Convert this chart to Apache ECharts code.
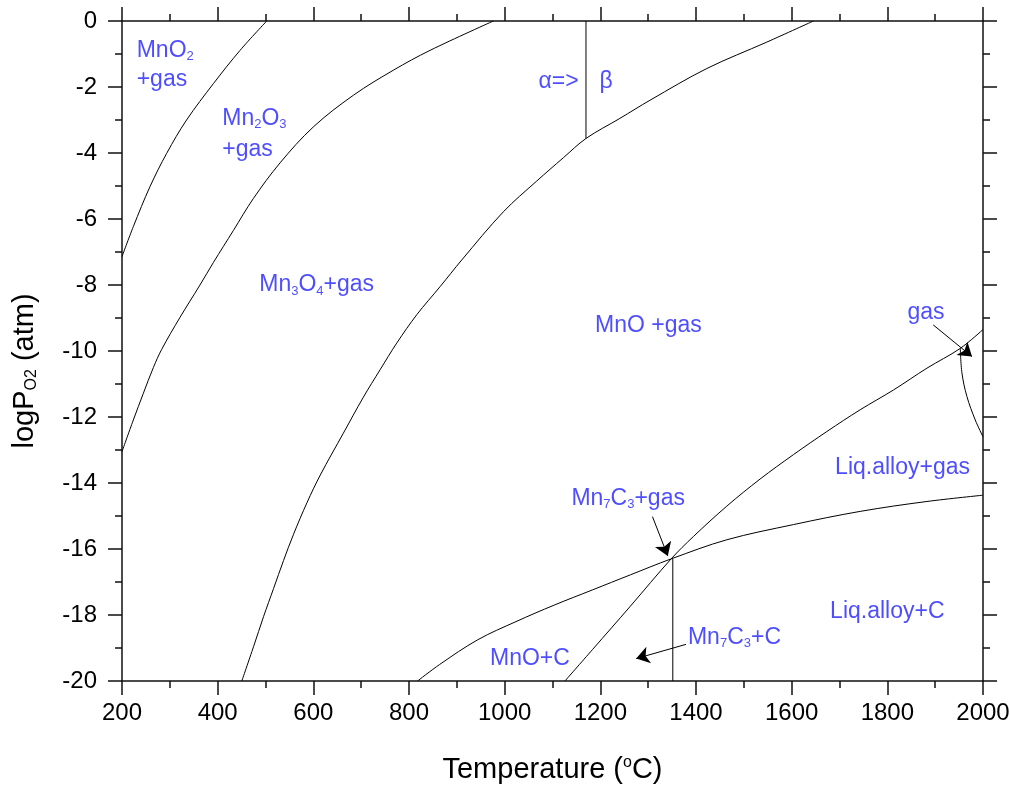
<!DOCTYPE html>
<html>
<head>
<meta charset="utf-8">
<script src="https://cdn.jsdelivr.net/npm/echarts@6/dist/echarts.min.js"></script>
<style>
  html, body { margin: 0; padding: 0; background: #fff; }
  #chart { width: 1010px; height: 788px; }
</style>
</head>
<body>
<div id="chart"></div>
<script>
// phase boundaries, [T (°C), logPO2 (atm)]
const mno2Line = [[200,-7.14],[223.7,-6.23],[258.5,-5.02],[293.4,-4.01],[335,-3.0],[391,-1.9],[446.8,-0.89],[502.6,0]];
const mn2o3Line = [[200,-13.05],[223.7,-12.09],[244.7,-11.28],[265.6,-10.5],[283,-9.95],[321.3,-8.98],[363,-8.0],[391,-7.32],[432.8,-6.35],[474.6,-5.38],[530.4,-4.3],[600,-3.21],[683.7,-2.25],[767.4,-1.49],[844,-0.89],[976.5,0]];
const mn3o4Line = [[450.5,-20],[475,-18.96],[495.9,-18.05],[516.8,-17.2],[537.7,-16.35],[558.7,-15.55],[586.6,-14.6],[614.5,-13.76],[662.8,-12.49],[704.6,-11.4],[739.5,-10.57],[774.4,-9.76],[816.3,-8.9],[865,-8.05],[910.4,-7.24],[997.4,-5.78],[1067,-4.85],[1123,-4.14],[1170,-3.56],[1241,-2.95],[1304,-2.4],[1422.6,-1.44],[1548,-0.64],[1645.6,0]];
const alphaBetaLine = [[1170,0],[1170,-3.56]];
const mnoLiqLine = [[1126,-20],[1183.5,-19.05],[1263,-17.73],[1348,-16.3],[1394.7,-15.62],[1464.5,-14.7],[1534,-13.88],[1603.8,-13.14],[1673.6,-12.44],[1743.3,-11.78],[1813,-11.18],[1882.8,-10.52],[1952.5,-9.92],[2000,-9.35]];
const carbonLine = [[818,-20],[864,-19.5],[943.8,-18.75],[1023.7,-18.2],[1103.6,-17.7],[1183.5,-17.24],[1263.4,-16.78],[1348,-16.3],[1464.5,-15.72],[1603.8,-15.26],[1743.3,-14.86],[1882.8,-14.56],[2000,-14.37]];
const mn7c3Line = [[1351.5,-16.3],[1351.5,-20]];
const gasLine = [[1952.5,-9.92],[1956,-10.67],[1966.4,-11.38],[1983.8,-12.09],[2000,-12.6]];

const curves = [mno2Line, mn2o3Line, mn3o4Line, mnoLiqLine, carbonLine, gasLine];
const straights = [alphaBetaLine, mn7c3Line];

// pointer arrows, [from, to]
const arrows = [
  [[1896,-9.21],[1977,-10.17]],
  [[1309,-15.02],[1341,-16.21]],
  [[1379,-18.89],[1275,-19.32]]
];

// region labels, [T, logPO2 (left edge, middle), text]
const regionLabels = [
  [230.7,-0.89,'MnO{s|2}'],
  [230.7,-1.78,'+gas'],
  [409.6,-2.95,'Mn{s|2}O{s|3}'],
  [409.6,-3.9,'+gas'],
  [487,-8.0,'Mn{s|3}O{s|4}+gas'],
  [1070.7,-1.85,'α=>'],
  [1198,-1.85,'β'],
  [1189,-9.24,'MnO +gas'],
  [1842,-8.85,'gas'],
  [1690.8,-13.55,'Liq.alloy+gas'],
  [1139.5,-14.46,'Mn{s|7}C{s|3}+gas'],
  [1680.4,-17.89,'Liq.alloy+C'],
  [1383.2,-18.69,'Mn{s|7}C{s|3}+C'],
  [969.4,-19.33,'MnO+C']
];

const fontFamily = '"Liberation Sans", Arial, sans-serif';
const blue = '#2222ff';
const chart = echarts.init(document.getElementById('chart'));

function lineOf(d, smooth) {
  return {
    type: 'line',
    data: d,
    showSymbol: false,
    smooth: smooth,
    silent: true,
    lineStyle: { color: '#000', width: 1 }
  };
}

const axisLineStyle = { color: '#111', width: 1.5 };

chart.setOption({
  animation: false,
  grid: { left: 122, right: 27, top: 21, bottom: 107, outerBoundsMode: 'none' },
  xAxis: [
    {
      type: 'value', position: 'bottom', min: 200, max: 2000, interval: 200,
      name: 'Temperature ({sup|o}C)', nameLocation: 'middle', nameGap: 74,
      nameTextStyle: {
        fontFamily: fontFamily, fontSize: 29, color: '#000',
        rich: { sup: { fontFamily: fontFamily, fontSize: 16, color: '#000', padding: [0, 0, 14, 0] } }
      },
      axisLine: { onZero: false, lineStyle: axisLineStyle },
      axisTick: { inside: false, length: 14, lineStyle: axisLineStyle },
      minorTick: { show: true, splitNumber: 2, length: 7, lineStyle: axisLineStyle },
      axisLabel: { margin: 20, fontFamily: fontFamily, fontSize: 24, color: '#000', formatter: function (v) { return String(v); } },
      splitLine: { show: false }
    },
    {
      type: 'value', position: 'top', min: 200, max: 2000, interval: 200,
      axisLine: { onZero: false, lineStyle: axisLineStyle },
      axisTick: { inside: false, length: 14, lineStyle: axisLineStyle },
      minorTick: { show: true, splitNumber: 2, length: 7, lineStyle: axisLineStyle },
      axisLabel: { show: false },
      splitLine: { show: false }
    }
  ],
  yAxis: [
    {
      type: 'value', position: 'left', min: -20, max: 0, interval: 2,
      name: 'logP{sub|O2} (atm)', nameLocation: 'middle', nameGap: 82, nameRotate: 90,
      nameTextStyle: {
        fontFamily: fontFamily, fontSize: 29, color: '#000', padding: [0, 40, 0, 0],
        rich: { sub: { fontFamily: fontFamily, fontSize: 16, color: '#000', padding: [14, 0, 0, 0] } }
      },
      axisLine: { onZero: false, lineStyle: axisLineStyle },
      axisTick: { inside: false, length: 14, lineStyle: axisLineStyle },
      minorTick: { show: true, splitNumber: 2, length: 7, lineStyle: axisLineStyle },
      axisLabel: { margin: 25, fontFamily: fontFamily, fontSize: 24, color: '#000' },
      splitLine: { show: false }
    },
    {
      type: 'value', position: 'right', min: -20, max: 0, interval: 2,
      axisLine: { onZero: false, lineStyle: axisLineStyle },
      axisTick: { inside: false, length: 14, lineStyle: axisLineStyle },
      minorTick: { show: true, splitNumber: 2, length: 7, lineStyle: axisLineStyle },
      axisLabel: { show: false },
      splitLine: { show: false }
    }
  ],
  series: curves.map(function (d) { return lineOf(d, 0.35); })
    .concat(straights.map(function (d) { return lineOf(d, false); }))
    .concat([
      {
        type: 'lines',
        coordinateSystem: 'cartesian2d',
        silent: true,
        symbol: ['none', 'arrow'],
        symbolSize: 13,
        lineStyle: { color: '#000', width: 1, opacity: 1 },
        data: arrows.map(function (a) { return { coords: a }; })
      },
      {
        type: 'scatter',
        silent: true,
        symbolSize: 0,
        data: regionLabels.map(function (r) { return { value: [r[0], r[1]], text: r[2] }; }),
        label: {
          show: true,
          position: 'right',
          distance: 0,
          fontFamily: fontFamily,
          fontSize: 23,
          color: blue,
          formatter: function (p) { return p.data.text; },
          rich: { s: { fontFamily: fontFamily, fontSize: 13, color: blue, padding: [12, 0, 0, 0] } }
        }
      }
    ])
});
</script>
</body>
</html>
